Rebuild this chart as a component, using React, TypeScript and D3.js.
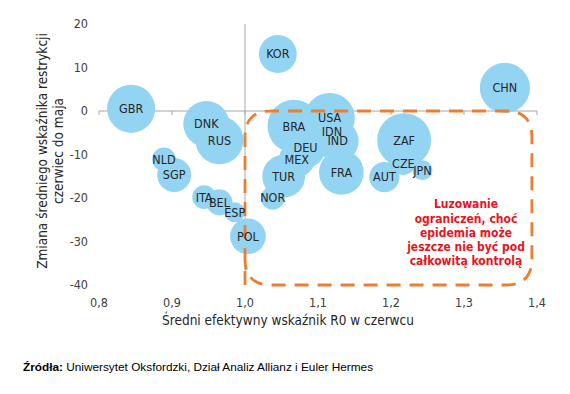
import React from "react";
import * as d3 from "d3";

const countries = ["GBR","KOR","CHN","DNK","RUS","NLD","SGP","ITA","BEL","ESP","POL","NOR","BRA","USA","IDN","IND","DEU","MEX","TUR","FRA","ZAF","CZE","JPN","AUT"];
const r0June = [0.844,1.045,1.356,0.947,0.965,0.889,0.903,0.944,0.965,0.986,1.004,1.038,1.067,1.116,1.119,1.127,1.083,1.071,1.053,1.132,1.218,1.217,1.243,1.191];
const restrChange = [0.5,13.1,5.3,-3.0,-6.7,-11.1,-14.7,-19.8,-21.0,-23.3,-28.8,-20.0,-3.5,-1.6,-4.8,-6.9,-8.5,-11.1,-15.0,-14.1,-6.7,-12.0,-13.6,-15.2];
const bubbleSize = [58,36,63,53,58,14,29,14,17,10,32,14,70,63,40,44,40,32,46,50,73,14,10,23];

const xTicks = [0.8,0.9,1.0,1.1,1.2,1.3,1.4];
const xTickLabels = ["0,8","0,9","1,0","1,1","1,2","1,3","1,4"];
const yTicks = [20,10,0,-10,-20,-30,-40];
const yTickLabels = ["20","10","0","-10","-20","-30","-40"];

const zoneX = [1.0, 1.393];
const zoneY = [0, -40];
const noteLines = ["Luzowanie","ograniczeń, choć","epidemia może","jeszcze nie być pod","całkowitą kontrolą"];

const yTitle = ["Zmiana średniego wskaźnika restrykcji","czerwiec do maja"];
const xTitle = "Średni efektywny wskaźnik R0 w czerwcu";

const narrow = "'Liberation Sans Narrow','Arial Narrow','DejaVu Sans Condensed',sans-serif";

export default function App() {
  const x = d3.scaleLinear().domain([0.8, 1.4]).range([99, 537]);
  const y = d3.scaleLinear().domain([20, -40]).range([24, 285]);
  const r = d3.scaleSqrt().domain([0, 73]).range([0, 27]);

  const zx0 = x(zoneX[0]), zx1 = x(zoneX[1]);
  const zy0 = y(zoneY[0]), zy1 = y(zoneY[1]);
  const rad = 26;
  const zonePath = `M${zx0},${zy1} L${zx0},${zy0 + rad} Q${zx0},${zy0} ${zx0 + rad},${zy0} L${zx1 - rad},${zy0} Q${zx1},${zy0} ${zx1},${zy0 + rad} L${zx1},${zy1 - rad} Q${zx1},${zy1} ${zx1 - rad},${zy1} L${zx0 + rad},${zy1} Q${zx0},${zy1} ${zx0},${zy1 - rad}`;

  return (
    <svg width={570} height={394} style={{ position: "absolute", left: 0, top: 0, background: "#fff" }}>
      <line x1={x(0.8)} x2={x(1.4)} y1={y(0)} y2={y(0)} stroke="#a6a6a6" strokeWidth={1} />
      {xTicks.map((t) => (
        <line key={"xt" + t} x1={x(t)} x2={x(t)} y1={y(0)} y2={y(0) + 4} stroke="#a6a6a6" />
      ))}
      <line x1={x(1.0)} x2={x(1.0)} y1={y(20)} y2={y(-40)} stroke="#a6a6a6" strokeWidth={1} />

      {countries.map((c, i) => (
        <circle key={c} cx={x(r0June[i])} cy={y(restrChange[i])} r={r(bubbleSize[i])} fill="#93d4f3" />
      ))}

      <path d={zonePath} fill="none" stroke="#ed7d31" strokeWidth={2.8} strokeDasharray="14 9" />

      {countries.map((c, i) => (
        <text key={"l" + c} x={x(r0June[i])} y={y(restrChange[i])} dy="0.35em" textAnchor="middle"
          fontFamily={narrow} fontSize={12.5} fill="#262626">{c}</text>
      ))}

      {yTicks.map((t, i) => (
        <text key={"yl" + t} x={88} y={y(t)} dy="0.35em" textAnchor="end" fontFamily={narrow} fontSize={12.5} fill="#404040">{yTickLabels[i]}</text>
      ))}
      {xTicks.map((t, i) => (
        <text key={"xl" + t} x={x(t)} y={303} dy="0.35em" textAnchor="middle" fontFamily={narrow} fontSize={12.5} fill="#404040">{xTickLabels[i]}</text>
      ))}

      <g transform="translate(0,151) rotate(-90)">
        {yTitle.map((s, i) => (
          <text key={s} x={0} y={47 + i * 16} textAnchor="middle" fontFamily={narrow} fontSize={13.5} fill="#262626">{s}</text>
        ))}
      </g>
      <text x={288} y={325} textAnchor="middle" fontFamily={narrow} fontSize={13.5} fill="#262626">{xTitle}</text>

      {noteLines.map((s, i) => (
        <text key={s} x={466} y={204 + i * 14.3} dy="0.35em" textAnchor="middle" fontFamily={narrow} fontWeight="bold" fontSize={12} fill="#e8141c">{s}</text>
      ))}

      <text x={23} y={371} fontFamily="'Liberation Sans',Arial,sans-serif" fontSize={11.8} fill="#000">
        <tspan fontWeight="bold">Źródła:</tspan> Uniwersytet Oksfordzki, Dział Analiz Allianz i Euler Hermes
      </text>
    </svg>
  );
}
